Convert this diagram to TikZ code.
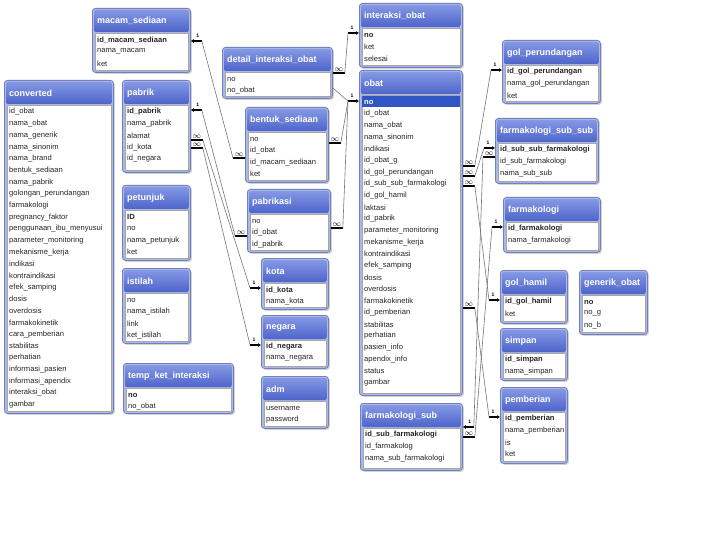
\documentclass[tikz,border=0pt]{standalone}
\usepackage{fontspec}
\setmainfont{Liberation Sans}
\usetikzlibrary{arrows.meta,shadows}
\definecolor{kepalaatas}{RGB}{132,152,228}
\definecolor{kepalabawah}{RGB}{78,100,202}
\definecolor{bingkaibiru}{RGB}{112,128,192}
\definecolor{bingkaiisi}{RGB}{172,184,228}
\definecolor{pilihbiru}{RGB}{48,86,196}
\definecolor{garisabu}{RGB}{118,118,118}
\tikzset{
bingkai/.style={draw=bingkaibiru, fill=bingkaiisi, line width=0.8pt, rounded corners=3pt,
anchor=north west, inner sep=0pt, drop shadow={shadow xshift=1.5pt, shadow yshift=-1.5pt, opacity=0.35}},
kepala/.style={top color=kepalaatas, bottom color=kepalabawah, rounded corners=2pt},
judul/.style={anchor=west, text=white, font=\bfseries\fontsize{9}{10}\selectfont, inner sep=0pt},
isi/.style={draw=black!35, fill=white, line width=0.4pt},
field/.style={anchor=west, inner sep=0pt, text=black!85, font=\fontsize{7.6}{8}\selectfont},
ujung/.style={line width=1.8pt, black},
lbl/.style={inner sep=0pt, font=\bfseries\fontsize{5}{5}\selectfont},
relasi/.style={draw=garisabu, line width=0.6pt}
}
% tabel: nama, x, y, lebar, tinggi, judul
\newcommand{\tabel}[6]{%
  \node[bingkai, minimum width=#4pt, minimum height=#5pt] (#1) at (#2,#3) {};
  \shade[kepala] ([xshift=2pt,yshift=-2pt]#1.north west) rectangle ([xshift=-2pt,yshift=-24pt]#1.north east);
  \node[judul] (#1-j) at ([xshift=5pt,yshift=-13pt]#1.north west) {#6};
  \draw[isi] ([xshift=3pt,yshift=-25pt]#1.north west) rectangle ([xshift=-3pt,yshift=3pt]#1.south east);
}
\newcommand{\kolom}[2]{%
  \foreach \f [count=\i] in {#2}
    \node[field] (#1-\i) at ([xshift=5pt,yshift={-32pt-(\i-1)*11.7pt}]#1.north west) {\f};
}
% ujung relasi: nama, titik tepi, arah
\newcommand{\satu}[3]{%
  \coordinate (#1-t) at (#2);
  \coordinate (#1) at ([xshift=#3*11pt]#1-t);
  \draw[ujung,-{Latex[length=3pt,width=4pt]}] (#1) -- (#1-t);
  \node[lbl] at ([xshift=#3*7pt,yshift=5pt]#1-t) {1};
}
\newcommand{\banyak}[3]{%
  \coordinate (#1-t) at (#2);
  \coordinate (#1) at ([xshift=#3*12pt]#1-t);
  \draw[ujung] (#1) -- (#1-t);
  \node[lbl] at ([xshift=#3*6pt,yshift=3.5pt]#1-t) {\fontsize{8}{8}\selectfont$\infty$};
}

\begin{document}
\begin{tikzpicture}[x=1pt,y=-1pt]
\useasboundingbox (0,0) rectangle (720,540);
\fill[white] (0,0) rectangle (720,540);

\tabel{converted}{4}{80}{109}{333}{converted}
\kolom{converted}{id\_obat, nama\_obat, nama\_generik, nama\_sinonim, nama\_brand, bentuk\_sediaan,
nama\_pabrik, golongan\_perundangan, farmakologi, pregnancy\_faktor, penggunaan\_ibu\_menyusui,
parameter\_monitoring, mekanisme\_kerja, indikasi, kontraindikasi, efek\_samping, dosis, overdosis,
farmakokinetik, cara\_pemberian, stabilitas, perhatian, informasi\_pasien, informasi\_apendix,
interaksi\_obat, gambar}

\tabel{macam}{92}{8}{98}{64}{macam\_sediaan}
\kolom{macam}{\textbf{id\_macam\_sediaan}, nama\_macam, ket}
\tabel{pabrik}{122}{80}{68}{92}{pabrik}
\kolom{pabrik}{\textbf{id\_pabrik}, nama\_pabrik, alamat, id\_kota, id\_negara}
\tabel{petunjuk}{122}{185}{68}{75}{petunjuk}
\kolom{petunjuk}{\textbf{ID}, no, nama\_petunjuk, ket}
\tabel{istilah}{122}{268}{68}{75}{istilah}
\kolom{istilah}{no, nama\_istilah, link, ket\_istilah}
\tabel{tempket}{123}{363}{110}{50}{temp\_ket\_interaksi}
\kolom{tempket}{\textbf{no}, no\_obat}

\tabel{detail}{222}{47}{110}{51}{detail\_interaksi\_obat}
\kolom{detail}{no, no\_obat}
\tabel{bentuk}{245}{107}{83}{75}{bentuk\_sediaan}
\kolom{bentuk}{no, id\_obat, id\_macam\_sediaan, ket}
\tabel{pabrikasi}{247}{189}{83}{63}{pabrikasi}
\kolom{pabrikasi}{no, id\_obat, id\_pabrik}
\tabel{kota}{261}{258}{67}{51}{kota}
\kolom{kota}{\textbf{id\_kota}, nama\_kota}
\tabel{negara}{261}{315}{67}{53}{negara}
\kolom{negara}{\textbf{id\_negara}, nama\_negara}
\tabel{adm}{261}{376}{67}{52}{adm}
\kolom{adm}{username, password}

\tabel{interaksi}{359}{3}{103}{64}{interaksi\_obat}
\kolom{interaksi}{\textbf{no}, ket, selesai}
\tabel{obat}{359}{70}{103}{325}{obat}
\fill[pilihbiru] ([xshift=3pt,yshift=-26pt]obat.north west) rectangle ([xshift=-3pt,yshift=-37pt]obat.north east);
\kolom{obat}{\textcolor{white}{\textbf{no}}, id\_obat, nama\_obat, nama\_sinonim, indikasi, id\_obat\_g,
id\_gol\_perundangan, id\_sub\_sub\_farmakologi, id\_gol\_hamil, laktasi, id\_pabrik,
parameter\_monitoring, mekanisme\_kerja, kontraindikasi, efek\_samping, dosis, overdosis,
farmakokinetik, id\_pemberian, stabilitas, perhatian, pasien\_info, apendix\_info, status, gambar}
\tabel{fsub}{360}{403}{102}{67}{farmakologi\_sub}
\kolom{fsub}{\textbf{id\_sub\_farmakologi}, id\_farmakolog, nama\_sub\_farmakologi}

\tabel{golper}{502}{40}{98}{63}{gol\_perundangan}
\kolom{golper}{\textbf{id\_gol\_perundangan}, nama\_gol\_perundangan, ket}
\tabel{fsubsub}{495}{118}{103}{65}{farmakologi\_sub\_sub}
\kolom{fsubsub}{\textbf{id\_sub\_sub\_farmakologi}, id\_sub\_farmakologi, nama\_sub\_sub}
\tabel{farmakologi}{503}{197}{97}{55}{farmakologi}
\kolom{farmakologi}{\textbf{id\_farmakologi}, nama\_farmakologi}
\tabel{golhamil}{500}{270}{67}{53}{gol\_hamil}
\kolom{golhamil}{\textbf{id\_gol\_hamil}, ket}
\tabel{simpan}{500}{328}{67}{52}{simpan}
\kolom{simpan}{\textbf{id\_simpan}, nama\_simpan}
\tabel{pemberian}{500}{387}{67}{76}{pemberian}
\kolom{pemberian}{\textbf{id\_pemberian}, nama\_pemberian, is, ket}
\tabel{generik}{579}{270}{68}{64}{generik\_obat}
\kolom{generik}{\textbf{no}, no\_g, no\_b}

% relasi
\satu{msA}{macam.east |- 0,41}{1}
\banyak{bsA}{bentuk.west |- 0,158}{-1}
\satu{pbA}{pabrik.east |- 0,110}{1}
\banyak{pkA}{pabrikasi.west |- 0,236}{-1}
\banyak{pbB}{pabrik.east |- 0,140}{1}
\satu{kotaA}{kota.west |- 0,288}{-1}
\banyak{pbC}{pabrik.east |- 0,148}{1}
\satu{negA}{negara.west |- 0,345}{-1}
\banyak{dioA}{detail.east |- 0,73}{1}
\satu{ioA}{interaksi.west |- 0,33}{-1}
\coordinate (dioB) at (detail.east |- 0,88);
\satu{obA}{obat.west |- 0,101}{-1}
\banyak{bsB}{bentuk.east |- 0,143}{1}
\banyak{pkB}{pabrikasi.east |- 0,228}{1}
\banyak{obR1}{obat.east |- 0,166}{1}
\satu{gpA}{golper.west |- 0,70}{-1}
\banyak{obR2}{obat.east |- 0,176}{1}
\satu{fssA}{fsubsub.west |- 0,148}{-1}
\banyak{obR3}{obat.east |- 0,186}{1}
\satu{ghA}{golhamil.west |- 0,300}{-1}
\banyak{obR4}{obat.east |- 0,308}{1}
\satu{pmA}{pemberian.west |- 0,417}{-1}
\banyak{fssB}{fsubsub.west |- 0,157}{-1}
\satu{fsA}{fsub.east |- 0,427}{1}
\banyak{fsB}{fsub.east |- 0,437}{1}
\satu{fA}{farmakologi.west |- 0,227}{-1}
\foreach \a/\b in {msA/bsA,pbA/pkA,pbB/kotaA,pbC/negA,dioA/ioA,dioB/obA,bsB/obA,pkB/obA,
obR1/gpA,obR2/fssA,obR3/ghA,obR4/pmA,fssB/fsA,fsB/fA}
\draw[relasi] (\a) -- (\b);
\end{tikzpicture}
\end{document}
